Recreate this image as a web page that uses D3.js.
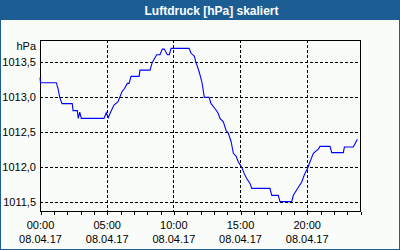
<!DOCTYPE html>
<html>
<head>
<meta charset="utf-8">
<script src="https://cdn.jsdelivr.net/npm/d3@7"></script>
<style>
  html, body { margin: 0; padding: 0; background: #fafcfa; }
  svg { display: block; font-family: "Liberation Sans", Arial, sans-serif; }
</style>
</head>
<body>
<div id="chart"></div>
<script>
const title = 'Luftdruck [hPa] skaliert';
const unit = 'hPa';

// time in hours after 08.04.17 00:00
const hours = [
  0, 0.04, 1.22, 1.35, 1.48, 1.65, 2.42, 2.48, 2.80, 2.87, 2.98, 3.10, 4.80, 4.97, 5.12, 5.30,
  5.55, 5.85, 5.98, 6.15, 6.35, 6.55, 6.68, 6.83, 7.43, 7.50, 8.25, 8.42, 8.75, 9.00, 9.17,
  9.32, 9.55, 9.70, 9.83, 11.18, 11.33, 11.57, 11.70, 11.93, 12.13, 12.22, 12.32, 12.68,
  12.83, 13.00, 13.20, 13.37, 13.50, 13.75, 13.95, 14.12, 14.33, 14.50, 14.70, 14.87, 15.13,
  15.32, 15.50, 15.75, 15.88, 17.25, 17.38, 17.87, 18.00, 18.88, 19.00, 19.33, 19.63, 19.82,
  20.08, 20.25, 20.50, 20.87, 21.00, 21.75, 21.88, 22.75, 22.83, 23.50, 23.80
];
const pressure = [
  1013.28, 1013.21, 1013.21, 1013.13, 1013.00, 1012.91, 1012.91, 1012.81, 1012.81, 1012.70,
  1012.79, 1012.70, 1012.70, 1012.78, 1012.71, 1012.79, 1012.89, 1012.94, 1013.00, 1013.08,
  1013.13, 1013.20, 1013.20, 1013.30, 1013.30, 1013.39, 1013.39, 1013.50, 1013.61, 1013.61,
  1013.69, 1013.69, 1013.61, 1013.61, 1013.70, 1013.70, 1013.63, 1013.59, 1013.50, 1013.37,
  1013.23, 1013.13, 1013.00, 1013.00, 1012.91, 1012.87, 1012.82, 1012.77, 1012.70, 1012.65,
  1012.53, 1012.49, 1012.37, 1012.20, 1012.16, 1012.08, 1012.00, 1011.91, 1011.84, 1011.77,
  1011.70, 1011.70, 1011.60, 1011.60, 1011.51, 1011.51, 1011.60, 1011.70, 1011.79, 1011.89,
  1011.99, 1012.08, 1012.20, 1012.26, 1012.30, 1012.30, 1012.21, 1012.21, 1012.29, 1012.29,
  1012.40
];

const yTicks = [1011.5, 1012.0, 1012.5, 1013.0, 1013.5];
const xTicks = [0, 5, 10, 15, 20];
const xTimeLabels = ['00:00', '05:00', '10:00', '15:00', '20:00'];
const xDateLabels = ['08.04.17', '08.04.17', '08.04.17', '08.04.17', '08.04.17'];

const width = 400;
const height = 250;
const margin = { top: 40, right: 40, bottom: 39, left: 40 };
const innerW = width - margin.left - margin.right;
const innerH = height - margin.top - margin.bottom;

const svg = d3.select('#chart').append('svg')
  .attr('width', width)
  .attr('height', height);

// frame + title bar
svg.append('rect')
  .attr('x', 0.5).attr('y', 0.5)
  .attr('width', width - 1).attr('height', height - 1)
  .attr('fill', '#fafcfa')
  .attr('stroke', '#1c5e94');
svg.append('rect')
  .attr('x', 0).attr('y', 0)
  .attr('width', width).attr('height', 20)
  .attr('fill', '#1c5e94');
svg.append('text')
  .attr('x', 211.5).attr('y', 14.5)
  .attr('text-anchor', 'middle')
  .attr('fill', '#fff')
  .style('font-weight', 'bold')
  .style('font-size', '12px')
  .text(title);

const g = svg.append('g').attr('transform', `translate(${margin.left},${margin.top})`);

const x = d3.scaleLinear().domain([0, 24]).range([0, innerW]);
const y = d3.scaleLinear().domain([1011.376, 1013.82]).range([innerH, 0]);

// grid
g.append('g')
  .selectAll('line')
  .data(yTicks)
  .join('line')
  .attr('x1', 0).attr('x2', innerW)
  .attr('y1', d => Math.round(y(d)) + 0.5)
  .attr('y2', d => Math.round(y(d)) + 0.5)
  .attr('stroke', '#000')
  .attr('stroke-dasharray', '3,2')
  .attr('shape-rendering', 'crispEdges');
g.append('g')
  .selectAll('line')
  .data(xTicks.slice(1))
  .join('line')
  .attr('x1', d => Math.round(x(d)) + 0.5)
  .attr('x2', d => Math.round(x(d)) + 0.5)
  .attr('y1', 0).attr('y2', innerH)
  .attr('stroke', '#000')
  .attr('stroke-dasharray', '3,2')
  .attr('shape-rendering', 'crispEdges');

// plot border
g.append('rect')
  .attr('x', 0.5).attr('y', 0.5)
  .attr('width', innerW).attr('height', innerH)
  .attr('fill', 'none')
  .attr('stroke', '#000')
  .attr('shape-rendering', 'crispEdges');

// hourly ticks on bottom axis
g.append('g')
  .attr('transform', `translate(0.5,${innerH + 0.5})`)
  .call(d3.axisBottom(x).tickValues(d3.range(0, 25)).tickSize(3).tickFormat(''))
  .call(a => a.select('.domain').remove())
  .selectAll('line').attr('shape-rendering', 'crispEdges');

// y labels
g.append('g')
  .selectAll('text')
  .data(yTicks)
  .join('text')
  .attr('x', -4)
  .attr('y', d => y(d) + 4)
  .attr('text-anchor', 'end')
  .style('font-size', '11px')
  .attr('fill', '#000')
  .text(d => d3.format('.1f')(d).replace('.', ','));
g.append('text')
  .attr('x', -4).attr('y', 9.5)
  .attr('text-anchor', 'end')
  .style('font-size', '11px')
  .text(unit);

// x labels
const xl = g.append('g')
  .selectAll('g')
  .data(xTicks)
  .join('g')
  .attr('transform', d => `translate(${x(d) + 0.5},0)`);
xl.append('text')
  .attr('y', innerH + 18)
  .attr('text-anchor', 'middle')
  .style('font-size', '11px')
  .text((d, i) => xTimeLabels[i]);
xl.append('text')
  .attr('y', innerH + 32)
  .attr('text-anchor', 'middle')
  .style('font-size', '11px')
  .text((d, i) => xDateLabels[i]);

// line
const line = d3.line()
  .x((d, i) => x(hours[i]))
  .y(d => y(d));
g.append('path')
  .datum(pressure)
  .attr('fill', 'none')
  .attr('stroke', '#0000ff')
  .attr('stroke-width', 1.1)
  .attr('d', line);
</script>
</body>
</html>
